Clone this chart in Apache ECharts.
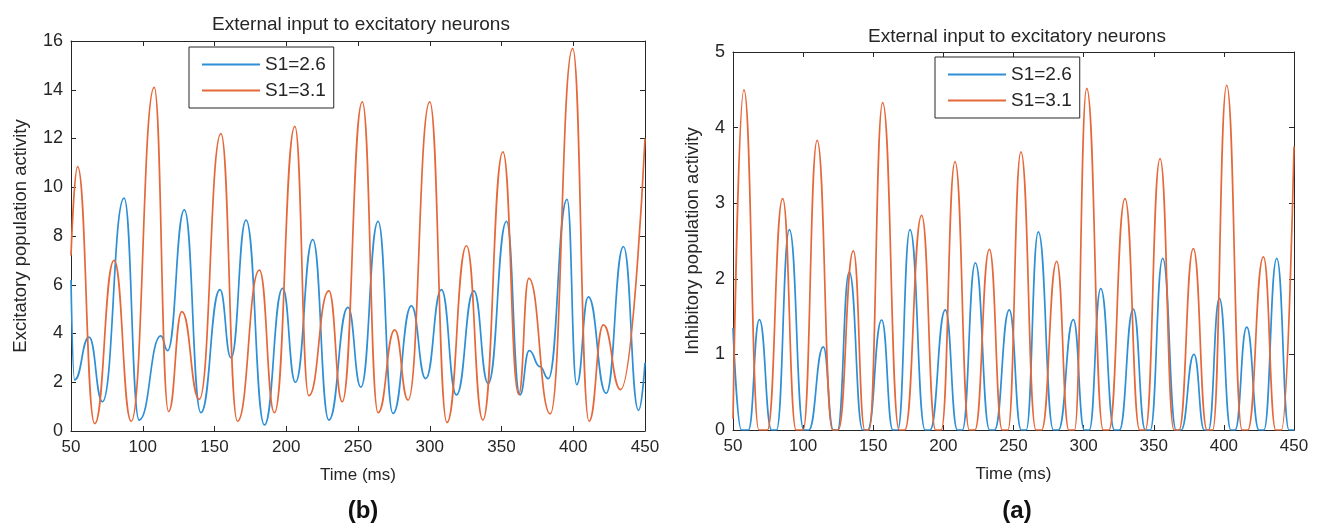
<!DOCTYPE html>
<html>
<head>
<meta charset="utf-8">
<title>External input to excitatory neurons</title>
<script src="https://cdn.jsdelivr.net/npm/echarts@6/dist/echarts.min.js"></script>
<style>
  html, body { margin: 0; padding: 0; background: #fff; }
  #chart { width: 1322px; height: 528px; }
</style>
</head>
<body>
<div id="chart"></div>
<script>
// Time axis (ms) shared by both panels
const timeTicks = [50, 100, 150, 200, 250, 300, 350, 400, 450];
const seriesNames = ['S1=2.6', 'S1=3.1'];

// Panel (b): excitatory population activity, extrema of each trace [time, value]
const excS26 = [
  [50, 6.2], [52.5, 2.1], [62.6, 3.85], [71.9, 1.2], [87, 9.55], [97.5, 0.45],
  [112.6, 3.9], [117.3, 3.3], [129, 9.07], [140.5, 0.75], [153.8, 5.8], [161.5, 3.0],
  [172, 8.65], [184.8, 0.25], [197.5, 5.85], [206.4, 2.0], [218.5, 7.85], [229.7, 0.45],
  [243, 5.07], [252, 1.8], [264, 8.6], [274.4, 0.72], [287.2, 5.13], [297.2, 2.15],
  [308.1, 5.8], [318.6, 1.48], [330.7, 5.75], [340.7, 1.95], [353.5, 8.6], [362.8, 1.48],
  [369.3, 3.3], [376.8, 2.64], [382.6, 2.15], [395.7, 9.5], [402.4, 1.9], [410.5, 5.5],
  [422.9, 1.55], [435, 7.56], [445.5, 0.85], [450, 2.8]
];
const excS31 = [
  [50, 7.2], [54.6, 10.85], [66.5, 0.3], [80, 7.0], [92, 0.4], [108, 14.1],
  [118, 0.8], [127.3, 4.9], [139.4, 1.3], [154.5, 12.2], [166, 0.4], [181.3, 6.6],
  [191.8, 0.75], [206, 12.5], [215.7, 1.45], [229.7, 5.75], [239, 1.2], [253, 13.5],
  [264, 0.75], [275.6, 4.15], [284.9, 1.27], [300, 13.5], [312, 0.35], [325.6, 7.6],
  [337, 0.45], [351, 11.45], [362, 1.5], [369, 6.26], [384, 0.7], [399.6, 15.7],
  [411, 0.4], [421, 4.35], [433, 1.7], [450, 12.0]
];

// Panel (a): inhibitory population activity, peaks and zero stretches [time, value]
const inhS26 = [
  [50, 1.35], [56, 0], [61, 0], [68.8, 1.46], [77.5, 0], [81, 0], [90.2, 2.65],
  [100.5, 0], [104, 0], [114.4, 1.1], [121.5, 0], [124.5, 0], [132.9, 2.09],
  [142.5, 0], [146, 0], [156, 1.455], [164, 0], [167.5, 0], [176.2, 2.65],
  [187, 0], [190.5, 0], [201.4, 1.59], [210, 0], [213.5, 0], [222.8, 2.21],
  [233, 0], [236.5, 0], [247, 1.59], [255.5, 0], [259, 0], [267.7, 2.62],
  [278.5, 0], [282, 0], [292.7, 1.46], [300.5, 0], [304, 0], [312.2, 1.87],
  [322, 0], [325.5, 0], [335.4, 1.6], [344, 0], [347.5, 0], [356.4, 2.27],
  [366, 0], [369.5, 0], [378.7, 1.0], [386, 0], [389, 0], [396.8, 1.74],
  [405, 0], [408, 0], [416.3, 1.36], [425, 0], [428.5, 0], [437.7, 2.27],
  [446.5, 0], [450, 0]
];
const inhS31 = [
  [50, 0.15], [57.8, 4.5], [68.5, 0], [74.5, 0], [85.4, 3.06], [95, 0], [100, 0],
  [110, 3.83], [121, 0], [125, 0], [135.8, 2.37], [144, 0], [147, 0], [156.7, 4.33],
  [168.5, 0], [172.5, 0], [184.5, 2.84], [194.5, 0], [198.5, 0], [208.3, 3.55],
  [218.5, 0], [222.5, 0], [232.8, 2.39], [242, 0], [246, 0], [255.3, 3.68],
  [266, 0], [270, 0], [280.8, 2.23], [289.5, 0], [293.5, 0], [302.2, 4.52],
  [314, 0], [318, 0], [329.5, 3.06], [340, 0], [344, 0], [354.5, 3.59],
  [364.5, 0], [368, 0], [378.2, 2.4], [388, 0], [392, 0], [402, 4.56],
  [413, 0], [417, 0], [428.2, 2.29], [437, 0], [441, 0], [450, 3.75]
];

const BLUE = '#2e8fd6';
const ORANGE = '#e5683a';
const INK = '#262626';
const FONT = "'Liberation Sans', Arial, sans-serif";

function xAxisPair(gridIndex) {
  const base = {
    gridIndex, type: 'value', min: timeTicks[0], max: timeTicks[timeTicks.length - 1], interval: 50,
    axisLine: { show: true, onZero: false, lineStyle: { color: INK, width: 1 } },
    axisTick: { show: true, inside: true, length: 5, lineStyle: { color: INK } },
    splitLine: { show: false }
  };
  return [
    Object.assign({}, base, {
      position: 'bottom',
      axisLabel: { color: INK, fontSize: 17, fontFamily: FONT, margin: 8 },
      name: 'Time (ms)', nameLocation: 'middle', nameGap: 36,
      nameTextStyle: { color: INK, fontSize: 17, fontFamily: FONT }
    }),
    Object.assign({}, base, { position: 'top', axisLabel: { show: false } })
  ];
}

function yAxisPair(gridIndex, max, interval, name, gap) {
  const base = {
    gridIndex, type: 'value', min: 0, max, interval,
    axisLine: { show: true, onZero: false, lineStyle: { color: INK, width: 1 } },
    axisTick: { show: true, inside: true, length: 5, lineStyle: { color: INK } },
    splitLine: { show: false }
  };
  return [
    Object.assign({}, base, {
      position: 'left',
      axisLabel: { color: INK, fontSize: 18, fontFamily: FONT, margin: 8 },
      name, nameLocation: 'middle', nameGap: gap,
      nameTextStyle: { color: INK, fontSize: 18.5, fontFamily: FONT }
    }),
    Object.assign({}, base, { position: 'right', axisLabel: { show: false } })
  ];
}

function trace(name, color, data, xi, yi) {
  return {
    name, type: 'line', data, xAxisIndex: xi, yAxisIndex: yi,
    showSymbol: false, symbol: 'none', smooth: 0.5, smoothMonotone: 'x',
    lineStyle: { color, width: 1.7 }, itemStyle: { color }, animation: false, z: 3
  };
}

function legendAt(left, top) {
  return {
    left, top, orient: 'vertical', data: seriesNames,
    icon: 'rect', itemWidth: 58, itemHeight: 2, itemGap: 7,
    padding: [8, 8, 8, 13], borderColor: INK, borderWidth: 1, backgroundColor: '#fff',
    textStyle: { color: INK, fontSize: 19, fontFamily: FONT },
    selectedMode: false
  };
}

const chart = echarts.init(document.getElementById('chart'), null, { renderer: 'canvas' });

chart.setOption({
  animation: false,
  backgroundColor: '#fff',
  title: [
    { text: 'External input to excitatory neurons', left: 356, top: 10, textAlign: 'center',
      textStyle: { color: INK, fontSize: 19, fontWeight: 'normal', fontFamily: FONT } },
    { text: 'External input to excitatory neurons', left: 1012, top: 22, textAlign: 'center',
      textStyle: { color: INK, fontSize: 19, fontWeight: 'normal', fontFamily: FONT } },
    { text: '(b)', left: 358, top: 494, textAlign: 'center',
      textStyle: { color: '#111', fontSize: 24, fontWeight: 'bold', fontFamily: FONT } },
    { text: '(a)', left: 1012, top: 494, textAlign: 'center',
      textStyle: { color: '#111', fontSize: 24, fontWeight: 'bold', fontFamily: FONT } }
  ],
  legend: [legendAt(189, 47), legendAt(935, 57)],
  grid: [
    { left: 71, top: 41, width: 574, height: 390, containLabel: false },
    { left: 733, top: 52, width: 561, height: 378, containLabel: false }
  ],
  xAxis: [...xAxisPair(0), ...xAxisPair(1)],
  yAxis: [
    ...yAxisPair(0, 16, 2, 'Excitatory population activity', 41),
    ...yAxisPair(1, 5, 1, 'Inhibitory population activity', 31)
  ],
  series: [
    trace('S1=2.6', BLUE, excS26, 0, 0),
    trace('S1=3.1', ORANGE, excS31, 0, 0),
    trace('S1=2.6', BLUE, inhS26, 2, 2),
    trace('S1=3.1', ORANGE, inhS31, 2, 2)
  ]
});
</script>
</body>
</html>
